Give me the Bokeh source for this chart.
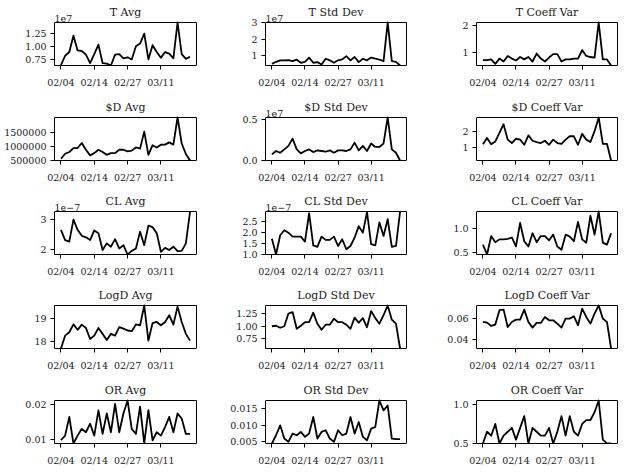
import numpy as np
from bokeh.plotting import figure
from bokeh.layouts import gridplot
from bokeh.models import Range1d, FixedTicker
from bokeh.core.properties import value
from bokeh.embed import file_html
from bokeh.resources import INLINE

# Trading days covered by the series
dates = ["02/04", "02/05", "02/06", "02/07", "02/08", "02/11", "02/12", "02/13",
         "02/14", "02/15", "02/19", "02/20", "02/21", "02/22", "02/25", "02/26",
         "02/27", "02/28", "03/01", "03/04", "03/05", "03/06", "03/07", "03/08",
         "03/11", "03/12", "03/13", "03/14", "03/15", "03/18", "03/19", "03/20"]

t_avg = np.array([0.65, 0.83, 0.90, 1.21, 0.93, 0.92, 0.85, 0.69, 0.86, 1.04, 0.69, 0.68,
                  0.645, 0.85, 0.86, 0.78, 0.80, 0.76, 1.01, 1.06, 1.25, 0.76, 1.03, 0.90,
                  0.79, 0.90, 0.87, 0.78, 1.46, 0.86, 0.77, 0.81]) * 1e7
t_std = np.array([0.46, 0.59, 0.68, 0.68, 0.70, 0.63, 0.72, 0.53, 0.59, 0.85, 0.53, 0.57,
                  0.42, 0.78, 0.68, 0.53, 0.68, 0.74, 0.94, 0.68, 0.89, 0.57, 0.78, 0.68,
                  0.85, 0.78, 0.72, 0.63, 3.03, 0.63, 0.59, 0.36]) * 1e7
t_cv = [0.71, 0.71, 0.74, 0.57, 0.77, 0.66, 0.87, 0.77, 0.70, 0.83, 0.74, 0.83,
        0.66, 0.96, 0.77, 0.66, 0.81, 0.94, 0.94, 0.66, 0.74, 0.74, 0.77, 0.77,
        1.09, 0.87, 0.83, 0.81, 2.13, 0.74, 0.74, 0.51]

d_avg = np.array([0.56, 0.74, 0.80, 0.94, 0.94, 1.12, 0.88, 0.68, 0.76, 0.88, 0.80, 0.70,
                  0.76, 0.76, 0.88, 0.88, 0.82, 0.85, 0.96, 0.92, 1.52, 0.70, 1.04, 0.96,
                  1.06, 1.06, 1.14, 1.06, 2.02, 1.10, 0.73, 0.50]) * 1e6
d_std = np.array([0.075, 0.117, 0.096, 0.137, 0.18, 0.27, 0.137, 0.088, 0.117, 0.137, 0.104,
                  0.125, 0.117, 0.108, 0.125, 0.096, 0.125, 0.125, 0.117, 0.137, 0.22, 0.125,
                  0.18, 0.117, 0.21, 0.167, 0.167, 0.21, 0.53, 0.137, 0.096, 0.0]) * 1e7
d_cv = [1.19, 1.57, 1.19, 1.36, 1.89, 2.43, 1.47, 1.26, 1.53, 1.47, 1.15, 1.74,
        1.40, 1.32, 1.26, 1.40, 1.15, 1.47, 1.26, 1.21, 1.47, 1.68, 1.68, 1.15,
        1.83, 1.47, 1.32, 2.00, 2.85, 1.21, 1.21, 0.17]

cl_avg = np.array([2.64, 2.30, 2.25, 2.98, 2.64, 2.44, 2.39, 2.30, 2.62, 2.53, 1.97, 2.19,
                   2.08, 2.33, 2.02, 2.13, 1.82, 1.94, 2.02, 2.58, 2.13, 2.78, 2.73, 2.53,
                   1.91, 2.04, 1.97, 2.08, 1.93, 1.94, 2.19, 3.25]) * 1e-7
cl_std = np.array([1.72, 1.00, 1.88, 2.11, 2.00, 1.82, 1.82, 1.82, 1.59, 2.89, 1.42, 1.35,
                   1.82, 1.67, 1.67, 1.82, 1.39, 1.70, 1.24, 1.39, 1.77, 2.30, 2.00, 2.94,
                   1.47, 1.42, 2.47, 1.85, 2.62, 1.35, 1.39, 2.97]) * 1e-7
cl_cv = [0.67, 0.46, 0.85, 0.72, 0.78, 0.78, 0.79, 0.82, 0.63, 1.13, 0.74, 0.63,
         0.91, 0.72, 0.85, 0.85, 0.76, 0.88, 0.63, 0.56, 0.88, 0.84, 0.74, 1.15,
         0.78, 0.71, 1.28, 0.88, 1.37, 0.71, 0.67, 0.91]

logd_avg = [17.67, 18.24, 18.39, 18.74, 18.50, 18.73, 18.58, 18.09, 18.24, 18.58, 18.32,
            18.05, 18.32, 18.24, 18.62, 18.55, 18.47, 18.44, 18.74, 18.70, 19.58, 18.02,
            18.80, 18.85, 18.70, 18.85, 19.15, 18.73, 19.53, 18.85, 18.32, 18.02]
logd_std = [1.00, 1.01, 0.97, 1.00, 1.25, 1.28, 0.95, 1.01, 1.08, 1.08, 1.27, 1.05,
            0.93, 1.03, 1.03, 1.15, 1.08, 1.08, 1.03, 0.95, 1.17, 1.07, 1.16, 0.98,
            1.30, 1.16, 1.05, 1.22, 1.41, 1.13, 1.05, 0.56]
logd_cv = [0.0568, 0.0562, 0.0530, 0.0543, 0.0680, 0.0686, 0.0520, 0.0568, 0.0590, 0.0590,
           0.0686, 0.0568, 0.0514, 0.0559, 0.0559, 0.0616, 0.0584, 0.0584, 0.0552, 0.0514,
           0.0600, 0.0600, 0.0622, 0.0537, 0.0695, 0.0616, 0.0552, 0.0648, 0.0725, 0.0600,
           0.0568, 0.0315]

or_avg = [0.0097, 0.0110, 0.0165, 0.0087, 0.0110, 0.0130, 0.0120, 0.0145, 0.0110, 0.0184,
          0.0115, 0.0175, 0.0120, 0.0203, 0.0120, 0.0175, 0.0213, 0.0130, 0.0115, 0.0195,
          0.0087, 0.0185, 0.0096, 0.0120, 0.0110, 0.0135, 0.0165, 0.0120, 0.0175, 0.0160,
          0.0115, 0.0115]
or_std = [0.0045, 0.0070, 0.0100, 0.0060, 0.0050, 0.0075, 0.0070, 0.0080, 0.0065, 0.0075,
          0.0125, 0.0060, 0.0080, 0.0085, 0.0060, 0.0050, 0.0085, 0.0070, 0.0075, 0.0125,
          0.0075, 0.0110, 0.0065, 0.0055, 0.0090, 0.0095, 0.0175, 0.0145, 0.0160, 0.0060,
          0.0058, 0.0058]
or_cv = [0.50, 0.65, 0.60, 0.75, 0.50, 0.60, 0.65, 0.70, 0.55, 0.70, 0.85, 0.50,
         0.70, 0.65, 0.60, 0.60, 0.70, 0.50, 0.65, 0.85, 0.60, 0.85, 0.65, 0.60,
         0.75, 0.80, 0.80, 0.90, 1.05, 0.55, 0.50, 0.50]

# (title, series, y ticks, y tick labels, offset text)
panels = [
    [("T Avg", t_avg, [0.75e7, 1.0e7, 1.25e7], ["0.75", "1.00", "1.25"], "1e7"),
     ("T Std Dev", t_std, [1e7, 2e7, 3e7], ["1", "2", "3"], "1e7"),
     ("T Coeff Var", t_cv, [1, 2], ["1", "2"], None)],
    [("$D Avg", d_avg, [500000, 1000000, 1500000], ["500000", "1000000", "1500000"], None),
     ("$D Std Dev", d_std, [0.0, 0.5e7], ["0.0", "0.5"], "1e7"),
     ("$D Coeff Var", d_cv, [1, 2], ["1", "2"], None)],
    [("CL Avg", cl_avg, [2e-7, 3e-7], ["2", "3"], "1e\u22127"),
     ("CL Std Dev", cl_std, [1.0e-7, 1.5e-7, 2.0e-7, 2.5e-7], ["1.0", "1.5", "2.0", "2.5"], "1e\u22127"),
     ("CL Coeff Var", cl_cv, [0.5, 1.0], ["0.5", "1.0"], None)],
    [("LogD Avg", logd_avg, [18, 19], ["18", "19"], None),
     ("LogD Std Dev", logd_std, [0.75, 1.0, 1.25], ["0.75", "1.00", "1.25"], None),
     ("LogD Coeff Var", logd_cv, [0.04, 0.06], ["0.04", "0.06"], None)],
    [("OR Avg", or_avg, [0.01, 0.02], ["0.01", "0.02"], None),
     ("OR Std Dev", or_std, [0.005, 0.010, 0.015], ["0.005", "0.010", "0.015"], None),
     ("OR Coeff Var", or_cv, [0.5, 1.0], ["0.5", "1.0"], None)],
]

date_ticks = [0, 8, 16, 24]

FONT = "DejaVu Serif"
TEXT = "#1a1a1a"
COL_W = [210, 210, 208]     # figure widths
BORDER_L = [54, 55, 56]     # space left of each axes box
BOX_W = [142, 141, 141]     # axes box width in px
ROW_H = [95, 94, 94, 95, 96]
BOX_TOP = 22                # px from the figure top to the axes box
BOX_H = 43                  # axes box height in px

n = len(dates)
xs = list(range(n))
pad = 0.05 * (n - 1)
x0, x1 = -pad, n - 1 + pad


def make_panel(r, c, title, ys, yticks, ylabels, offset):
    ys = list(ys)
    lo, hi = min(ys), max(ys)
    W, H = COL_W[c], ROW_H[r]
    bottom = H - BOX_TOP - BOX_H
    frame_w = W - BORDER_L[c]
    frame_h = H - bottom
    # the plotting frame reaches the figure's top/right edge so the
    # title texts can be drawn above the axes box
    x_end = x0 + (x1 - x0) * frame_w / BOX_W[c]
    y_end = lo + (hi - lo) * frame_h / BOX_H
    px_y = (hi - lo) / BOX_H

    p = figure(width=W, height=H, title=None,
               output_backend="svg", toolbar_location=None,
               x_range=Range1d(x0, x_end), y_range=Range1d(lo, y_end),
               min_border_left=BORDER_L[c], min_border_right=0,
               min_border_top=0, min_border_bottom=bottom)
    p.background_fill_color = "white"
    p.border_fill_color = "white"
    p.grid.visible = False
    p.outline_line_color = None

    p.line(xs, ys, line_color="black", line_width=1.8, line_join="round")
    # top and right edges of the axes box
    p.line([x0, x1, x1], [hi, hi, lo], line_color="black", line_width=1)

    p.xaxis.ticker = FixedTicker(ticks=date_ticks)
    p.xaxis.major_label_overrides = {t: dates[t] for t in date_ticks}
    p.xaxis.bounds = (x0, x1)
    p.yaxis.ticker = FixedTicker(ticks=yticks)
    p.yaxis.major_label_overrides = dict(zip(yticks, ylabels))
    p.yaxis.bounds = (lo, hi)

    for ax in (p.xaxis[0], p.yaxis[0]):
        ax.axis_line_color = "black"
        ax.axis_line_width = 1
        ax.major_tick_line_color = "black"
        ax.major_tick_line_width = 1
        ax.major_tick_out = 4
        ax.major_tick_in = 0
        ax.minor_tick_line_color = None
        ax.major_label_text_font = FONT
        ax.major_label_text_font_size = "9.5px"
        ax.major_label_text_color = TEXT
    p.xaxis.major_label_standoff = 7
    p.yaxis.major_label_standoff = 4
    p.yaxis.major_label_orientation = "horizontal"

    p.text(x=[(x0 + x1) / 2], y=[hi + 10.5 * px_y], text=[title],
           text_align="center", text_baseline="alphabetic",
           text_font=value(FONT), text_font_size=value("11px"), text_color=TEXT)
    if offset:
        p.text(x=[x0], y=[hi + 4 * px_y], text=[offset],
               text_align="left", text_baseline="alphabetic",
               text_font=value(FONT), text_font_size=value("9.5px"), text_color=TEXT)
    return p


grid = [[make_panel(r, c, *panels[r][c]) for c in range(3)] for r in range(5)]
layout = gridplot(grid, toolbar_location=None)

open("out.html", "w").write(file_html(layout, INLINE))
